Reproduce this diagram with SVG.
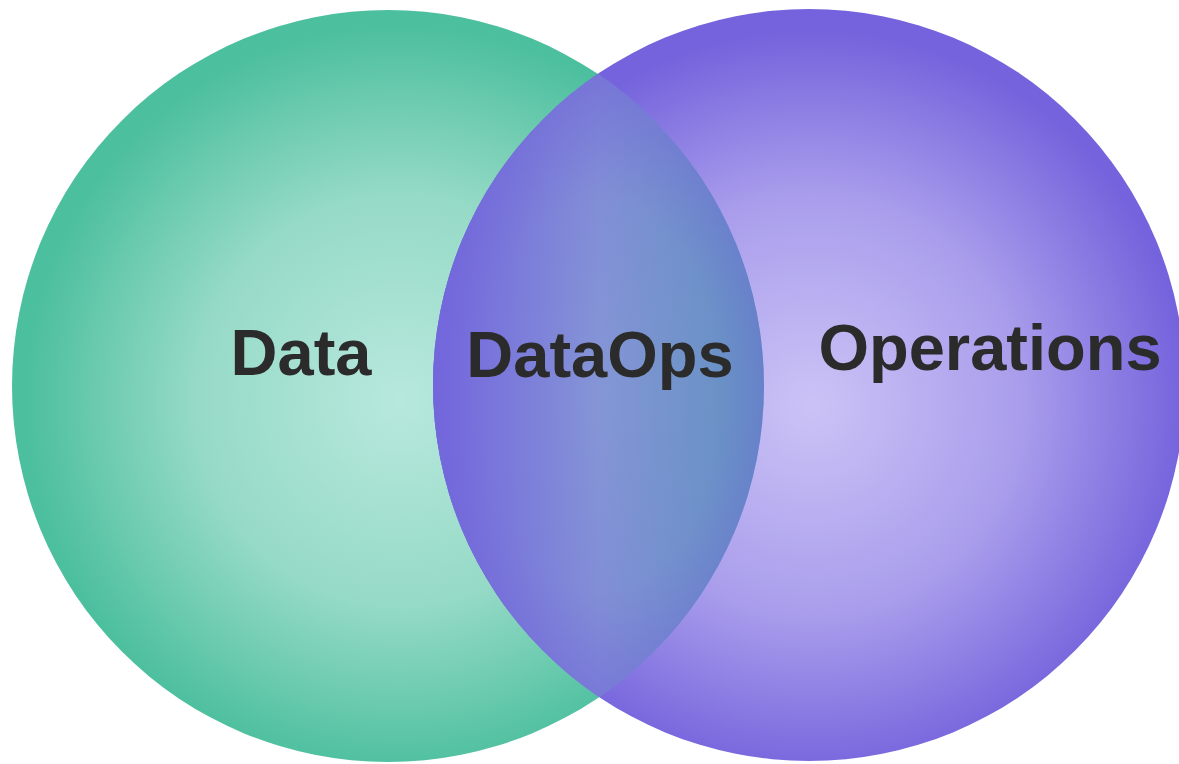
<svg xmlns="http://www.w3.org/2000/svg" width="1179" height="764" viewBox="0 0 1179 764">
<style>
.lbl{font-family:"Liberation Sans",Arial,sans-serif;font-weight:bold;font-size:65px;fill:#2b2b2b;text-anchor:middle}
</style>
<defs>
<radialGradient id="gGreen" gradientUnits="userSpaceOnUse" cx="400" cy="400" r="375">
<stop offset="0" stop-color="#b8e8de"/>
<stop offset="0.55" stop-color="#95dac6"/>
<stop offset="1" stop-color="#4cbf9e"/>
</radialGradient>
<radialGradient id="gPurple" gradientUnits="userSpaceOnUse" cx="812" cy="405" r="375">
<stop offset="0" stop-color="#cbc3f6"/>
<stop offset="0.55" stop-color="#aa9eec"/>
<stop offset="1" stop-color="#7463dc"/>
</radialGradient>
<linearGradient id="gLens" gradientUnits="userSpaceOnUse" x1="433" y1="0" x2="765" y2="0">
<stop offset="0" stop-color="#7568df"/>
<stop offset="0.5" stop-color="#8596d6"/>
<stop offset="1" stop-color="#5f9bbd"/>
</linearGradient>
<radialGradient id="gLensShade" gradientUnits="userSpaceOnUse" cx="600" cy="395" r="330" gradientTransform="translate(600 395) scale(0.6 1) translate(-600 -395)">
<stop offset="0" stop-color="#7064d8" stop-opacity="0"/>
<stop offset="0.6" stop-color="#7064d8" stop-opacity="0.15"/>
<stop offset="1" stop-color="#7064d8" stop-opacity="0.7"/>
</radialGradient>
<clipPath id="clipLeft"><circle cx="388" cy="386" r="376"/></clipPath>
</defs>
<g id="node-data">
<circle cx="388" cy="386" r="376" fill="url(#gGreen)"/>
</g>
<g id="node-operations">
<circle cx="809" cy="385" r="376" fill="url(#gPurple)"/>
</g>
<g id="node-dataops">
<g clip-path="url(#clipLeft)">
<circle cx="809" cy="385" r="376" fill="url(#gLens)"/>
<circle cx="809" cy="385" r="376" fill="url(#gLensShade)"/>
</g>
</g>
<g id="connectors"/>
<g id="labels">
<text class="lbl" x="301" y="375">Data</text>
<text class="lbl" x="600" y="377">DataOps</text>
<text class="lbl" x="990" y="370">Operations</text>
</g>
</svg>
